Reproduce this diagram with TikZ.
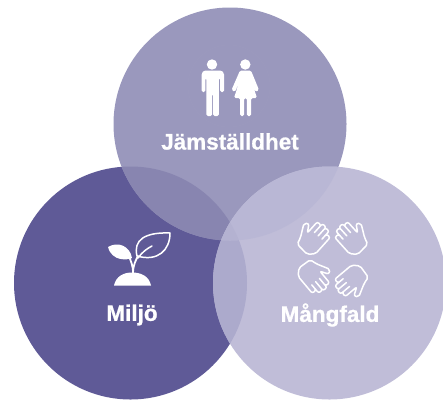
\documentclass[tikz,border=0pt]{standalone}
\usepackage{fontspec}
\setmainfont{Liberation Sans}[BoldFeatures={FakeBold=0.8}]
\definecolor{cL}{HTML}{5F5A97}
\definecolor{cT}{HTML}{9A98BD}
\definecolor{cR}{HTML}{C0BDD8}
\definecolor{cLT}{HTML}{8885B0}
\definecolor{cLR}{HTML}{ACAACC}
\definecolor{cTR}{HTML}{B9B7D5}
\definecolor{cLTR}{HTML}{B4B2D1}
\tikzset{
 lbl/.style={text=white,font=\bfseries\fontsize{22.5}{22.5}\selectfont,inner sep=0pt},
 ico/.style={draw=white,line width=1.5pt,line cap=round,line join=round},
 icf/.style={fill=white,draw=none},
 hand/.pic={\draw[ico,rounded corners=2pt]
   (-11,1)--(-11,-12)--(-6,-12)--(-6,-4)--(-6,-16)--(-1,-16)--(-1,-4)--(-1,-17)--(4,-17)--(4,-4)--(4,-15)--(9,-15)--(9,0)--(14,-8)--(18,-5)--(11,8)--(9,15)--(-5,16)--(-11,10)--cycle;}
}
\begin{document}
\begin{tikzpicture}[x=1pt,y=-1pt]
\useasboundingbox (0,0) rectangle (443,399);
\def\cT{(230,124) circle[radius=116.5]}
\def\cL{(130.5,283) circle[radius=116.5]}
\def\cR{(329.5,283) circle[radius=116.5]}
\fill[cL] \cL;
\fill[cT] \cT;
\fill[cR] \cR;
\begin{scope}\clip \cL; \fill[cLT] \cT; \end{scope}
\begin{scope}\clip \cL; \fill[cLR] \cR; \end{scope}
\begin{scope}\clip \cT; \fill[cTR] \cR; \end{scope}
\begin{scope}\clip \cL; \clip \cT; \fill[cLTR] \cR; \end{scope}
\draw[cT!98!white,line width=0.5pt] (229,86) circle[radius=41];
% man
\fill[icf] (212,64.5) circle[radius=5.2];
\fill[icf,rounded corners=1.5pt] (201.7,92)--(201.7,73)--(204,70.5)--(221.5,70.5)--(224,73)--(224,92)--(220,92)--(220,78)--(218.8,78)--(218.8,116)--(213.2,116)--(213.2,94)--(212,94)--(212,116)--(206.4,116)--(206.4,78)--(205.4,78)--(205.4,92)--cycle;
% woman
\fill[icf] (245.3,64.5) circle[radius=5.2];
\fill[icf,rounded corners=1.5pt] (240,70.5)--(251,70.5)--(259,90)--(255.5,92)--(251.5,81)--(257,98)--(251,98)--(251,116)--(246.8,116)--(246.8,98)--(244.2,98)--(244.2,116)--(240,116)--(240,98)--(234,98)--(239.5,81)--(235,92)--(231.5,90)--cycle;
\node[lbl] (jam) at (230,141.5) {Jämställdhet};
% plant
\fill[icf] (114,285.5) .. controls (116,276) and (124,272.5) .. (132,272.5) .. controls (141,272.5) and (149,276) .. (151,285.5) -- cycle;
\fill[icf] (108,247) .. controls (118,241) and (130,246) .. (132,258) .. controls (128,260) and (112,262) .. (108,247) -- cycle;
\draw[ico,line width=1.8pt] (133,273) .. controls (133,265) and (131,262) .. (129,256);
\draw[ico,line width=1.8pt] (133,273) .. controls (133,265) and (136,260) .. (138,256);
\draw[ico] (137,256) .. controls (133,240) and (145,232) .. (170,233) .. controls (170,250) and (158,262) .. (137,256) -- cycle;
\draw[ico] (138,258) .. controls (142,252) and (148,248) .. (152,246);
\node[lbl] (mil) at (132,315) {Miljö};
% hands
\pic[rotate=-42,xscale=-1] at (314,239) {hand};
\pic[rotate=42] at (351,239) {hand};
\pic[rotate=-140,xscale=-1] at (313,277) {hand};
\pic[rotate=130,xscale=-1] at (351,280) {hand};
\node[lbl] (man) at (330,315) {Mångfald};
\end{tikzpicture}
\end{document}
